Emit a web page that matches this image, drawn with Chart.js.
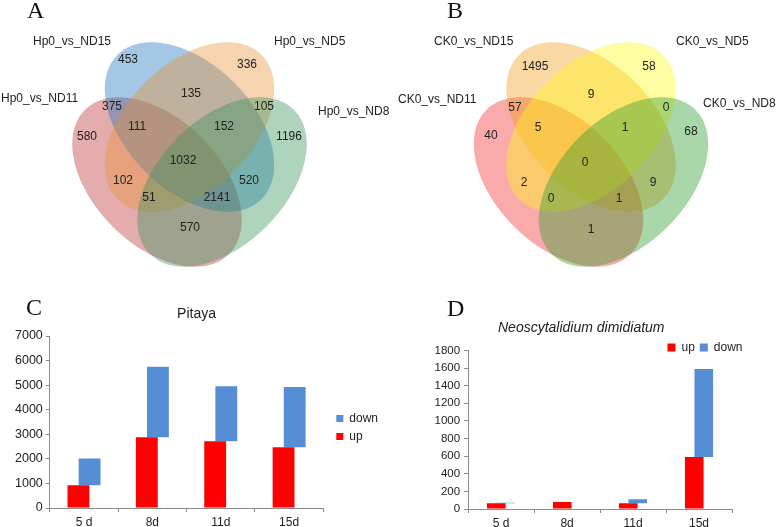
<!DOCTYPE html>
<html>
<head>
<meta charset="utf-8">
<script src="https://cdn.jsdelivr.net/npm/chart.js@4.4.0/dist/chart.umd.min.js"></script>
<style>
  body { margin: 0; background: #fff; }
  #fig { position: relative; width: 784px; height: 527px; overflow: hidden; background: #fff; }
  #fig canvas { position: absolute; }
  .tag { position: absolute; font-family: "Liberation Serif", "Times New Roman", serif; font-size: 24px; line-height: 24px; color: #111; }
</style>
</head>
<body>
<div id="fig">
  <canvas id="vennA" width="392" height="270" style="left:0;top:0"></canvas>
  <canvas id="vennB" width="392" height="270" style="left:392px;top:0"></canvas>
  <canvas id="barC" width="392" height="264" style="left:0;top:270px"></canvas>
  <canvas id="barD" width="392" height="265" style="left:392px;top:270px"></canvas>
  <div class="tag" style="left:27px;top:-2px">A</div>
  <div class="tag" style="left:447px;top:-2px">B</div>
  <div class="tag" style="left:26px;top:295px">C</div>
  <div class="tag" style="left:447px;top:296px">D</div>
</div>
<script>
// ---- data ----
const setsA = ['Hp0_vs_ND11', 'Hp0_vs_ND15', 'Hp0_vs_ND5', 'Hp0_vs_ND8'];
const countsA = [453, 336, 135, 375, 105, 580, 111, 152, 1196, 1032, 102, 520, 51, 2141, 570];

const setsB = ['CK0_vs_ND11', 'CK0_vs_ND15', 'CK0_vs_ND5', 'CK0_vs_ND8'];
const countsB = [1495, 58, 9, 57, 0, 40, 5, 1, 68, 0, 2, 9, 0, 1, 1];

const days = ['5 d', '8d', '11d', '15d'];
const upC = [930, 2880, 2720, 2470];
const downC = [1080, 2870, 2230, 2450];
const upD = [64, 79, 64, 589];
const downD = [6, 0, 46, 1000];

// ---- layout of the venn panels (canvas units) ----
const spotsA = [[128,60],[247,65],[191,94],[112,107],[264,107],[87,137],[137,127],[224,127],[289,137],
                [183,161],[123,181],[249,181],[149,198],[217,198],[190,228]];
const spotsB = [[143,67],[257,67],[199,95],[123,108],[274,108],[99,136],[146,128],[233,128],[299,132],
                [193,163],[132,183],[261,183],[159,199],[227,199],[199,230]];
const namePosA = [[1,99],[33,42],[274,42],[318,112]];
const namePosB = [[6,100],[42,42],[284,42],[311,104]];
const shapesA = [[157,182,45],[189.5,127,45],[189.5,127,-45],[222,182,-45]];
const shapesB = [[166.5,182,45],[199,127,45],[199,127,-45],[231.5,182,-45]];
const colorsA = ['rgba(188,48,48,0.4)', 'rgba(25,115,188,0.4)', 'rgba(230,148,55,0.4)', 'rgba(55,148,93,0.4)'];
const colorsB = ['rgba(243,43,43,0.4)', 'rgba(243,158,25,0.4)', 'rgba(255,250,20,0.4)', 'rgba(43,155,43,0.4)'];

Chart.defaults.font.family = '"Liberation Sans", Arial, sans-serif';
Chart.defaults.color = '#222';
Chart.defaults.animation = false;
Chart.defaults.events = [];

const vennPlugin = {
  id: 'venn',
  beforeDatasetsDraw(chart, args, opts) {
    const { ctx, scales: { x, y } } = chart;
    const k = x.getPixelForValue(1) - x.getPixelForValue(0);
    opts.shapes.forEach((s, i) => {
      ctx.save();
      ctx.beginPath();
      ctx.ellipse(x.getPixelForValue(s[0]), y.getPixelForValue(s[1]), 102 * k, 63 * k, s[2] * Math.PI / 180, 0, Math.PI * 2);
      ctx.fillStyle = opts.colors[i];
      ctx.fill();
      ctx.restore();
    });
  },
  afterDatasetsDraw(chart, args, opts) {
    const { ctx, scales: { x, y } } = chart;
    ctx.save();
    ctx.fillStyle = '#222';
    ctx.font = '12px "Liberation Sans", Arial, sans-serif';
    ctx.textBaseline = 'middle';
    ctx.textAlign = 'center';
    chart.getDatasetMeta(0).data.forEach((pt, i) => {
      ctx.fillText(String(opts.counts[i]), pt.x, pt.y);
    });
    ctx.textAlign = 'left';
    opts.names.forEach((n, i) => {
      ctx.fillText(n, x.getPixelForValue(opts.namePos[i][0]), y.getPixelForValue(opts.namePos[i][1]));
    });
    ctx.restore();
  }
};

function drawVenn(id, sets, counts, spots, namePos, shapes, colors) {
  new Chart(document.getElementById(id), {
    type: 'scatter',
    data: { datasets: [{ data: spots.map(p => ({ x: p[0], y: p[1] })), pointRadius: 0 }] },
    options: {
      responsive: false,
      layout: { padding: 0 },
      plugins: {
        legend: { display: false },
        tooltip: { enabled: false },
        venn: { counts, names: sets, namePos, shapes, colors }
      },
      scales: {
        x: { type: 'linear', min: 0, max: 392, display: false },
        y: { type: 'linear', min: 0, max: 270, reverse: true, display: false }
      }
    },
    plugins: [vennPlugin]
  });
}

drawVenn('vennA', setsA, countsA, spotsA, namePosA, shapesA, colorsA);
drawVenn('vennB', setsB, countsB, spotsB, namePosB, shapesB, colorsB);

// legend tweaks: let it take less room in the layout, then nudge where it is drawn
const legendNudge = {
  id: 'legendNudge',
  beforeInit(chart, args, opts) {
    const lg = chart.legend;
    if (!lg || !opts.shrink) return;
    const fit = lg.fit;
    lg.fit = function () { fit.call(this); this.height -= opts.shrink; };
  },
  afterLayout(chart, args, opts) {
    const lg = chart.legend;
    if (!lg) return;
    if (opts.shrink) { lg.bottom += opts.shrink; lg.height += opts.shrink; }
    lg.left += opts.dx || 0; lg.right += opts.dx || 0;
    lg.top += opts.dy || 0; lg.bottom += opts.dy || 0;
  }
};

function axisStyle(fontSize, pad) {
  return {
    grid: { drawOnChartArea: false, tickLength: 4, color: '#8c8c8c' },
    border: { display: true, color: '#8c8c8c' },
    ticks: { color: '#222', padding: pad, font: { size: fontSize }, autoSkip: false }
  };
}

function drawBars(id, up, down, cfg) {
  const xAxis = axisStyle(12, 3.8);
  xAxis.grid.offset = true;
  const yAxis = axisStyle(cfg.yFont, cfg.yPad);
  yAxis.min = 0;
  yAxis.max = cfg.yMax;
  yAxis.ticks.stepSize = cfg.yStep;
  yAxis.ticks.callback = v => String(v);
  new Chart(document.getElementById(id), {
    type: 'bar',
    data: {
      labels: days,
      datasets: [
        { label: 'up', data: up, backgroundColor: '#ff0000',
          categoryPercentage: cfg.catPct, barPercentage: 1.96 },
        { label: 'down', data: up.map((u, i) => [u, u + down[i]]), backgroundColor: '#558ed5',
          categoryPercentage: cfg.catPct, barPercentage: 1.96 }
      ]
    },
    options: {
      responsive: false,
      layout: { padding: cfg.padding },
      plugins: {
        tooltip: { enabled: false },
        title: { display: true, text: cfg.title, color: '#222',
                 font: { size: 14, weight: 'normal', style: cfg.italic ? 'italic' : 'normal' },
                 padding: cfg.titlePad },
        legend: cfg.legend,
        legendNudge: cfg.nudge
      },
      scales: { x: xAxis, y: yAxis }
    },
    plugins: [legendNudge]
  });
}

drawBars('barC', upC, downC, {
  title: 'Pitaya', italic: false, titlePad: { top: 35.6, bottom: 13.6 },
  yMax: 7000, yStep: 1000, yFont: 12.5, yPad: 3, catPct: 0.326,
  padding: { left: 12, right: 11, top: 0, bottom: 0 },
  legend: { position: 'right', reverse: true,
            labels: { boxWidth: 7, boxHeight: 7, padding: 6, color: '#222', font: { size: 12 } } },
  nudge: { dx: 7, dy: 25.5 }
});

drawBars('barD', upD, downD, {
  title: 'Neoscytalidium dimidiatum', italic: true, titlePad: { top: 49.6, bottom: 0 },
  yMax: 1800, yStep: 200, yFont: 11.5, yPad: 4, catPct: 0.288,
  padding: { left: 38.5, right: 52, top: 0, bottom: 0 },
  legend: { position: 'top', align: 'end',
            labels: { boxWidth: 8, boxHeight: 8, padding: 5, color: '#222', font: { size: 12 } } },
  nudge: { shrink: 13, dx: 15.5 }
});
</script>
</body>
</html>
